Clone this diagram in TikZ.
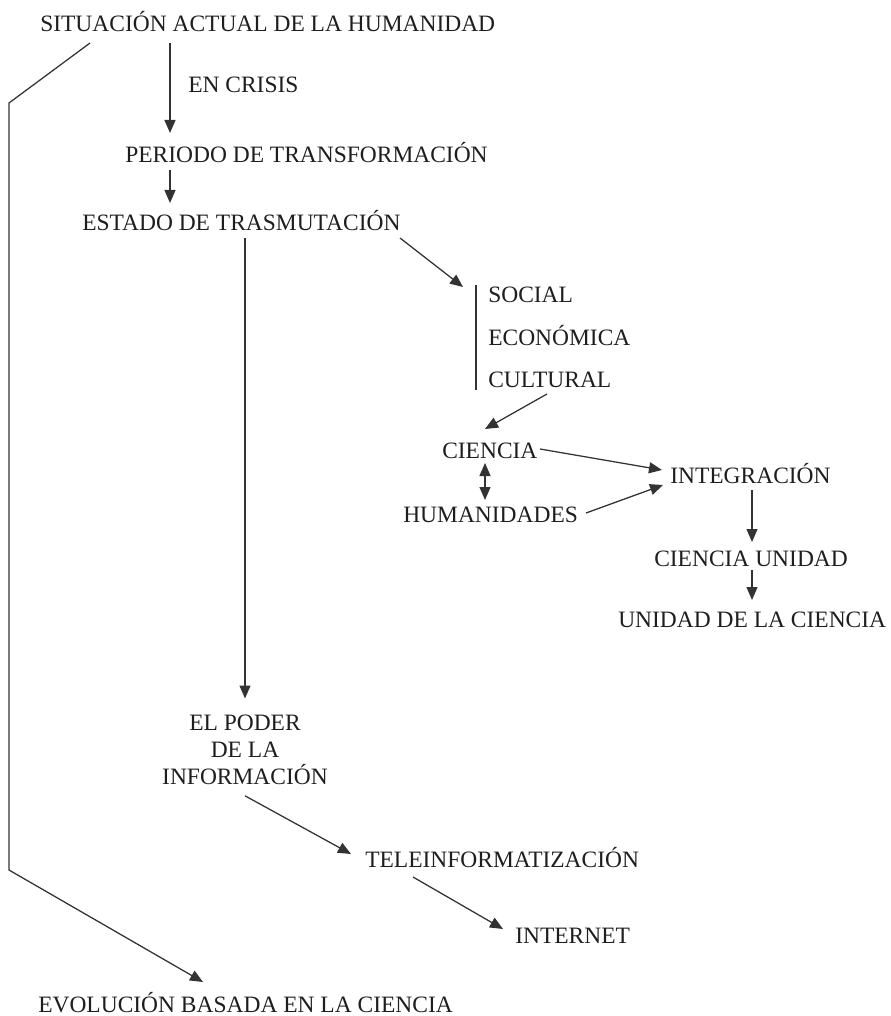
\documentclass[tikz,border=0pt]{standalone}
\usepackage{fontspec}
\setmainfont{Liberation Serif}
\usepackage{xcolor}
\usetikzlibrary{arrows.meta,calc}

\definecolor{ink}{HTML}{1E1E1E}
\definecolor{wire}{HTML}{333333}

\begin{document}
\begin{tikzpicture}[
    x=0.75pt, y=-0.75pt,
    term/.style={inner sep=0pt, anchor=base west, text=ink, font=\fontsize{17.6}{20.25}\selectfont},
    flow/.style={-{Triangle[length=9.75pt, width=8.25pt]}, wire, line width=0.95pt},
    both/.style={{Triangle[length=9.75pt, width=8.25pt]}-{Triangle[length=9.75pt, width=8.25pt]}, wire, line width=0.95pt},
    plain/.style={wire, line width=0.95pt}
]
\useasboundingbox (0,0) rectangle (890,1016);

% Main column
\node[term] (sit) at (40,32) {SITUACIÓN ACTUAL DE LA HUMANIDAD};
\node[term] (crisis) at (188,93) {EN CRISIS};
\node[term] (periodo) at (125,163) {PERIODO DE TRANSFORMACIÓN};
\node[term] (estado) at (82,230) {ESTADO DE TRASMUTACIÓN};

% Three fields
\node[term] (social) at (488,302) {SOCIAL};
\node[term] (economica) at (488,345) {ECONÓMICA};
\node[term] (cultural) at (488,387) {CULTURAL};

% Science branch
\node[term] (ciencia) at (442,458) {CIENCIA};
\node[term] (humanidades) at (403,522) {HUMANIDADES};
\node[term] (integracion) at (670,483) {INTEGRACIÓN};
\node[term] (cunidad) at (654,566) {CIENCIA UNIDAD};
\node[term] (unidad) at (618,627) {UNIDAD DE LA CIENCIA};

% Information branch
\node[term, anchor=north, align=center] (poder) at (245,714.5) {EL PODER\\DE LA\\INFORMACIÓN};
\node[term] (tele) at (365,867) {TELEINFORMATIZACIÓN};
\node[term] (internet) at (515,943) {INTERNET};

% Outcome
\node[term] (evolucion) at (38,1012) {EVOLUCIÓN BASADA EN LA CIENCIA};

% Arrows down the main column
\draw[flow] ($(sit.base west)+(130,11)$) -- ($(periodo.base west)+(45,-30)$);
\draw[flow] ($(periodo.base west)+(45,7)$) -- ($(estado.base west)+(88,-27)$);
\draw[flow] ($(estado.base west)+(163,8)$) -- ($(poder.north)+(0,-16)$);
\draw[flow] ($(estado.base west)+(318,8)$) -- ($(social.base west)+(-25,-15)$);

% Bar beside the fields
\draw[plain] ($(social.base west)+(-12,-17)$) -- ($(cultural.base west)+(-12,3)$);

% Science branch arrows
\draw[flow] ($(cultural.base west)+(59,7)$) -- ($(ciencia.base west)+(43,-29)$);
\draw[flow] ($(ciencia.base west)+(98,-9)$) -- ($(integracion.base west)+(-8,-13)$);
\draw[both] ($(ciencia.base west)+(43,5)$) -- ($(humanidades.base west)+(82,-22)$);
\draw[flow] ($(humanidades.base west)+(183,-9)$) -- ($(integracion.base west)+(-7,2)$);
\draw[flow] ($(integracion.base west)+(82,7)$) -- ($(cunidad.base west)+(98,-24)$);
\draw[flow] ($(cunidad.base west)+(98,4)$) -- ($(unidad.base west)+(134,-27)$);

% Information branch arrows
\draw[flow] ($(poder.south)+(0,11)$) -- ($(tele.base west)+(-14,-13)$);
\draw[flow] ($(tele.base west)+(48,10)$) -- ($(internet.base west)+(-12,-14)$);

% Long way round on the left
\draw[flow] ($(sit.base west)+(50,11)$) -- ++(-81,60) -- ++(0,767) -- ($(evolucion.base west)+(165,-30)$);

\end{tikzpicture}
\end{document}
